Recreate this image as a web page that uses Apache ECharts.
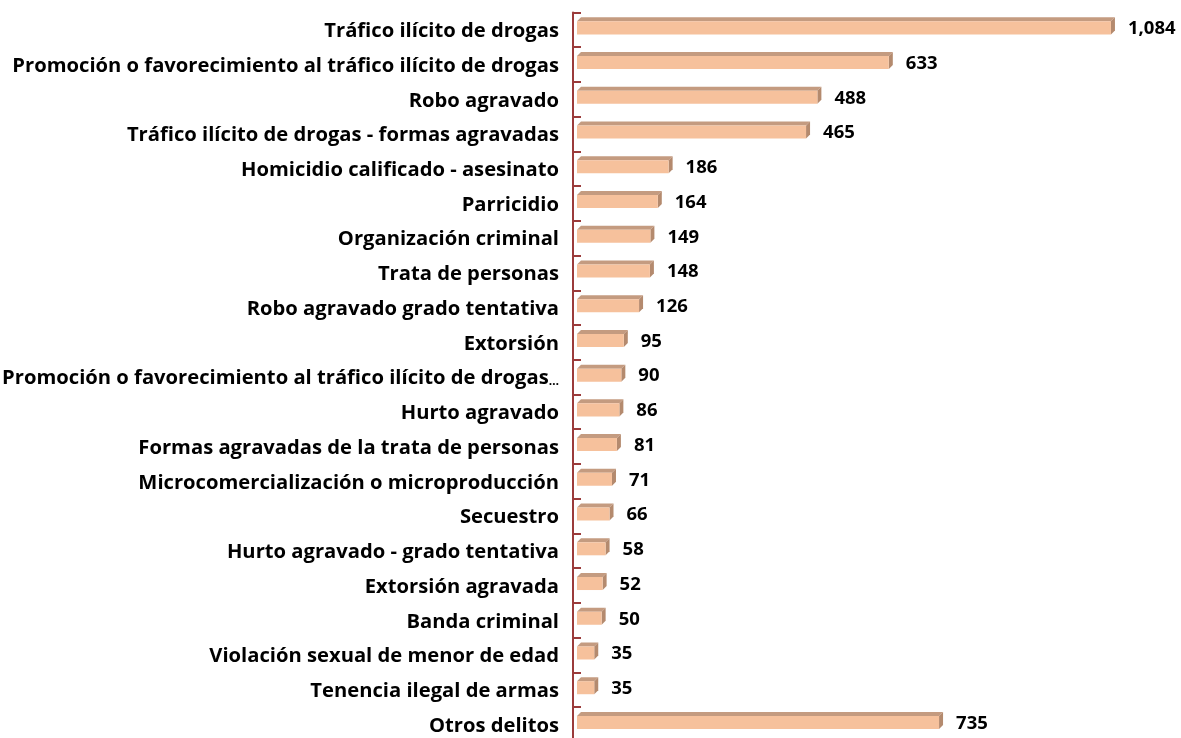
<!DOCTYPE html>
<html>
<head>
<meta charset="utf-8">
<script src="https://cdn.jsdelivr.net/npm/echarts@6/dist/echarts.min.js"></script>
<style>
html,body{margin:0;padding:0;background:#fff;}
#chart{width:1181px;height:738px;}
</style>
</head>
<body>
<div id="chart"></div>
<script>
const categories = [
  "Tráfico ilícito de drogas",
  "Promoción o favorecimiento al tráfico ilícito de drogas",
  "Robo agravado",
  "Tráfico ilícito de drogas - formas agravadas",
  "Homicidio calificado - asesinato",
  "Parricidio",
  "Organización criminal",
  "Trata de personas",
  "Robo agravado grado tentativa",
  "Extorsión",
  "Promoción o favorecimiento al tráfico ilícito de drogas…",
  "Hurto agravado",
  "Formas agravadas de la trata de personas",
  "Microcomercialización o microproducción",
  "Secuestro",
  "Hurto agravado - grado tentativa",
  "Extorsión agravada",
  "Banda criminal",
  "Violación sexual de menor de edad",
  "Tenencia ilegal de armas",
  "Otros delitos"
];
const values = [1084, 633, 488, 465, 186, 164, 149, 148, 126, 95, 90, 86, 81, 71, 66, 58, 52, 50, 35, 35, 735];

const LABEL_FONT = "Open Sans";
const chart = echarts.init(document.getElementById('chart'), null, {renderer: 'canvas'});

function fmt(v){ return v.toLocaleString('en-US'); }

const option = {
  animation: false,
  grid: {left: 573, top: 12.5, width: 595.1, height: 729.3, containLabel: false, outerBoundsMode: 'none'},
  xAxis: {
    type: 'value', min: -8.12, max: 1200, show: false
  },
  yAxis: {
    type: 'category', data: categories, inverse: true,
    axisLine: {show: true, onZero: false, lineStyle: {color: '#9B3B3B', width: 2}},
    axisTick: {show: true, inside: true, length: 8, lineStyle: {color: '#9B3B3B', width: 2}},
    axisLabel: {
      color: '#000', fontSize: 20.2, fontWeight: 'bold', fontFamily: LABEL_FONT, margin: 14,
      padding: [3, 0, 0, 0],
      formatter: function (s) {
        if (s.endsWith('…')) return '{t|' + s.slice(0, -1) + '}{e|…}';
        return s;
      },
      rich: {
        t: {color: '#000', fontSize: 20.2, fontWeight: 'bold', fontFamily: LABEL_FONT},
        e: {color: '#000', fontSize: 12, fontWeight: 'bold', fontFamily: LABEL_FONT, padding: [6, 0, 0, 0]}
      }
    }
  },
  series: [{
    type: 'custom',
    data: values.map((v, i) => [v, i]),
    encode: {x: 0, y: 1},
    clip: false,
    renderItem: function (params, api) {
      const v = api.value(0), idx = api.value(1);
      const start = api.coord([0, idx]);
      const end = api.coord([v, idx]);
      const band = api.size([0, 1])[1];
      const cy = start[1];
      const frontTop = cy - band * 0.245;
      const frontBot = cy + band * 0.13;
      const d = 4;
      const x0 = start[0], x1 = end[0];
      return {
        type: 'group',
        children: [
          {type: 'polygon', shape: {points: [[x0, frontTop], [x0 + d, frontTop - d], [x1 + d, frontTop - d], [x1, frontTop]]},
           style: {fill: '#C49B80'}},
          {type: 'polygon', shape: {points: [[x1, frontTop], [x1 + d, frontTop - d], [x1 + d, frontBot - d], [x1, frontBot]]},
           style: {fill: '#B48A6E'}},
          {type: 'rect', shape: {x: x0, y: frontTop, width: x1 - x0, height: frontBot - frontTop},
           style: {fill: '#F6C19C'}},
          {type: 'text', x: x1 + d + 13, y: cy - 1,
           style: {text: fmt(v), fill: '#000', font: 'bold 18.5px "Open Sans"', textVerticalAlign: 'middle', textAlign: 'left'}}
        ]
      };
    }
  }]
};
chart.setOption(option);
</script>
</body>
</html>
